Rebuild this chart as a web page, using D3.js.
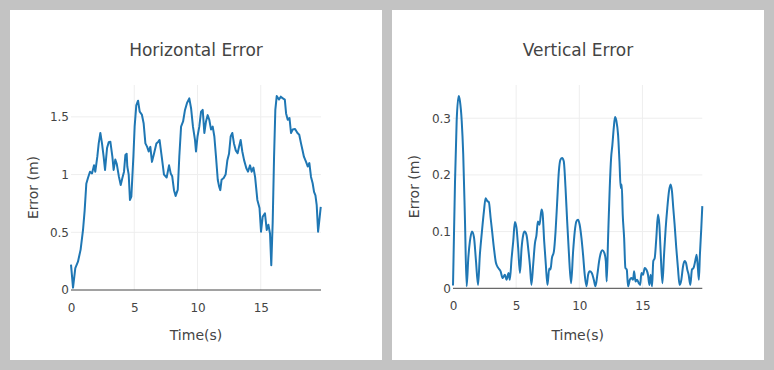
<!DOCTYPE html>
<html>
<head>
<meta charset="utf-8">
<script src="https://cdn.jsdelivr.net/npm/d3@7"></script>
<style>
  body { margin: 0; background: #c3c3c3; }
  svg { display: block; }
  text { font-family: "DejaVu Sans", verdana, sans-serif; fill: #444; }
</style>
</head>
<body>
<svg id="chart" width="774" height="370"></svg>
<script>
'use strict';

// ----- data -----
var hTime = [0, 0.16, 0.34, 0.55, 0.76, 0.95, 1.08, 1.21, 1.34, 1.50, 1.66, 1.82, 1.92, 2.08, 2.19, 2.32, 2.45, 2.58, 2.69, 2.85,
  2.98, 3.11, 3.27, 3.37, 3.50, 3.62, 3.79, 3.93, 4.06, 4.19, 4.30, 4.40, 4.45, 4.56, 4.66, 4.77, 4.93, 5.03, 5.16, 5.30,
  5.43, 5.60, 5.74, 5.88, 6.02, 6.14, 6.27, 6.40, 6.56, 6.75, 6.90, 7.00, 7.17, 7.35, 7.56, 7.75, 7.88, 8.00, 8.14, 8.27,
  8.44, 8.56, 8.70, 8.86, 9.01, 9.17, 9.35, 9.49, 9.64, 9.80, 9.88, 10.0, 10.14, 10.28, 10.41, 10.54, 10.67, 10.80, 10.93, 11.07,
  11.20, 11.33, 11.46, 11.60, 11.70, 11.80, 11.90, 12.07, 12.22, 12.36, 12.49, 12.62, 12.75, 12.88, 13.02, 13.17, 13.28, 13.41, 13.54, 13.68,
  13.86, 13.99, 14.15, 14.28, 14.42, 14.55, 14.73, 14.90, 15.02, 15.15, 15.33, 15.47, 15.60, 15.73, 15.83, 15.94, 16.05, 16.15, 16.26, 16.44,
  16.58, 16.75, 16.90, 17.00, 17.13, 17.27, 17.39, 17.52, 17.71, 17.90, 18.04, 18.18, 18.30, 18.41, 18.58, 18.71, 18.84, 18.97, 19.10, 19.21,
  19.32, 19.42, 19.53, 19.63, 19.74];
var hError = [0.22, 0.02, 0.19, 0.245, 0.35, 0.52, 0.69, 0.92, 0.97, 1.025, 1.01, 1.08, 1.025, 1.155, 1.27, 1.36, 1.27, 1.155, 1.04, 1.23,
  1.28, 1.285, 1.155, 1.04, 1.13, 1.09, 0.98, 0.91, 0.97, 1.025, 1.17, 1.18, 1.07, 1.0, 0.78, 0.81, 1.155, 1.415, 1.60, 1.64,
  1.545, 1.52, 1.445, 1.27, 1.24, 1.20, 1.24, 1.11, 1.18, 1.27, 1.285, 1.30, 1.155, 1.0, 0.975, 1.08, 1.01, 0.985, 0.865, 0.815,
  0.87, 1.155, 1.415, 1.46, 1.56, 1.62, 1.66, 1.575, 1.415, 1.30, 1.2, 1.33, 1.415, 1.545, 1.56, 1.36, 1.46, 1.515, 1.475, 1.39,
  1.415, 1.33, 1.155, 0.955, 0.90, 0.865, 0.955, 0.97, 1.0, 1.125, 1.18, 1.33, 1.36, 1.27, 1.21, 1.185, 1.24, 1.30, 1.2, 1.125,
  1.055, 1.025, 1.08, 1.025, 1.06, 0.98, 0.78, 0.71, 0.505, 0.635, 0.665, 0.52, 0.565, 0.49, 0.215, 0.58, 1.155, 1.56, 1.68, 1.65,
  1.675, 1.66, 1.65, 1.53, 1.475, 1.49, 1.36, 1.39, 1.395, 1.36, 1.345, 1.27, 1.21, 1.155, 1.11, 1.07, 1.1, 0.98, 0.925, 0.85,
  0.82, 0.735, 0.505, 0.605, 0.72];

var vTime = [0, 0.16, 0.29, 0.45, 0.55, 0.69, 0.81, 0.95, 1.08, 1.21, 1.34, 1.50, 1.66, 1.82, 1.98, 2.13, 2.29, 2.45, 2.58, 2.71,
  2.84, 2.98, 3.10, 3.24, 3.40, 3.58, 3.77, 3.93, 4.11, 4.24, 4.40, 4.50, 4.64, 4.77, 4.90, 5.03, 5.16, 5.30, 5.43, 5.56,
  5.67, 5.82, 5.98, 6.09, 6.21, 6.35, 6.48, 6.61, 6.72, 6.85, 7.01, 7.09, 7.22, 7.35, 7.48, 7.62, 7.72, 7.83, 7.99, 8.12,
  8.25, 8.38, 8.51, 8.64, 8.77, 8.91, 9.04, 9.17, 9.35, 9.51, 9.64, 9.77, 9.90, 10.03, 10.17, 10.30, 10.43, 10.57, 10.70, 10.83,
  10.99, 11.15, 11.28, 11.43, 11.57, 11.70, 11.83, 11.99, 12.10, 12.17, 12.28, 12.41, 12.52, 12.62, 12.73, 12.83, 12.94, 13.07, 13.18, 13.28,
  13.36, 13.44, 13.55, 13.65, 13.76, 13.86, 14.00, 14.13, 14.26, 14.34, 14.45, 14.58, 14.71, 14.82, 14.92, 15.05, 15.18, 15.31, 15.44, 15.55,
  15.65, 15.76, 15.86, 15.97, 16.10, 16.23, 16.34, 16.44, 16.58, 16.71, 16.84, 16.97, 17.10, 17.23, 17.34, 17.44, 17.55, 17.68, 17.81, 17.94,
  18.08, 18.21, 18.34, 18.45, 18.55, 18.66, 18.79, 18.92, 19.05, 19.18, 19.29, 19.39, 19.47, 19.55, 19.66, 19.74];
var vError = [0.005, 0.189, 0.295, 0.339, 0.33, 0.295, 0.236, 0.118, 0.0035, 0.053, 0.083, 0.1, 0.09, 0.048, 0.006, 0.06, 0.1, 0.136, 0.159, 0.154,
  0.152, 0.124, 0.1, 0.071, 0.045, 0.036, 0.03, 0.018, 0.024, 0.015, 0.027, 0.015, 0.053, 0.083, 0.117, 0.106, 0.071, 0.027, 0.071, 0.094,
  0.1, 0.094, 0.065, 0.041, 0.006, 0.042, 0.078, 0.094, 0.118, 0.112, 0.139, 0.133, 0.083, 0.042, 0.006, 0.035, 0.033, 0.053, 0.065, 0.1,
  0.153, 0.206, 0.227, 0.23, 0.224, 0.177, 0.118, 0.065, 0.009, 0.065, 0.1, 0.118, 0.121, 0.112, 0.089, 0.059, 0.024, 0.0035, 0.024, 0.03,
  0.027, 0.015, 0.0035, 0.024, 0.048, 0.062, 0.067, 0.062, 0.048, 0.012, 0.089, 0.177, 0.23, 0.253, 0.283, 0.302, 0.295, 0.271, 0.224, 0.177,
  0.183, 0.13, 0.089, 0.036, 0.033, 0.0035, 0.015, 0.018, 0.015, 0.03, 0.012, 0.015, 0.009, 0.006, 0.027, 0.024, 0.036, 0.033, 0.024, 0.006,
  0.024, 0.0035, 0.048, 0.053, 0.089, 0.13, 0.112, 0.065, 0.009, 0.059, 0.106, 0.142, 0.171, 0.183, 0.171, 0.142, 0.112, 0.071, 0.036, 0.006,
  0.015, 0.038, 0.048, 0.045, 0.033, 0.024, 0.006, 0.033, 0.036, 0.048, 0.059, 0.036, 0.015, 0.059, 0.106, 0.145];

var xTicks = [0, 5, 10, 15];
var hTicks = [0, 0.5, 1, 1.5];
var vTicks = [0, 0.1, 0.2, 0.3];

var svg = d3.select("#chart");
var fontFamily = "\"DejaVu Sans\", verdana, sans-serif";

function drawPanel(opt) {
  var panel = svg.append("g")
    .attr("transform", "translate(" + opt.left + "," + opt.top + ")");

  panel.append("rect")
    .attr("width", 372)
    .attr("height", 350)
    .attr("fill", "#fff");

  var margin = opt.margin,
      width = opt.width,
      height = opt.height;

  var g = panel.append("g")
    .attr("transform", "translate(" + margin.left + "," + margin.top + ")");

  var x = d3.scaleLinear().domain([0, opt.xMax]).range([0, width]),
      y = d3.scaleLinear().domain([0, opt.yMax]).range([height, 0]);

  // grid
  g.selectAll(".vgrid")
    .data(xTicks.filter(function(d) { return d > 0; }))
    .enter().append("line")
    .attr("x1", function(d) { return x(d); })
    .attr("x2", function(d) { return x(d); })
    .attr("y1", 0)
    .attr("y2", height)
    .attr("stroke", "#eee")
    .attr("stroke-width", 1);

  g.selectAll(".hgrid")
    .data(opt.yTicks.filter(function(d) { return d > 0; }))
    .enter().append("line")
    .attr("x1", 0)
    .attr("x2", width)
    .attr("y1", function(d) { return y(d); })
    .attr("y2", function(d) { return y(d); })
    .attr("stroke", "#eee")
    .attr("stroke-width", 1);

  // axes (labels only)
  var xAxis = g.append("g")
    .attr("transform", "translate(0," + height + ")")
    .call(d3.axisBottom(x).tickValues(xTicks).tickSize(0).tickPadding(13.5).tickFormat(String));
  var yAxis = g.append("g")
    .call(d3.axisLeft(y).tickValues(opt.yTicks).tickSize(0).tickPadding(2).tickFormat(String));
  [xAxis, yAxis].forEach(function(a) {
    a.select(".domain").remove();
    a.selectAll("text")
      .attr("fill", "#444")
      .style("font-size", "12px")
      .style("font-family", fontFamily);
  });

  // zero line
  g.append("line")
    .attr("x1", 0)
    .attr("x2", width)
    .attr("y1", y(0))
    .attr("y2", y(0))
    .attr("stroke", "#444")
    .attr("stroke-width", 1);

  var pts = opt.time.map(function(t, i) { return [t, opt.values[i]]; });

  var line = d3.line()
    .x(function(d) { return x(d[0]); })
    .y(function(d) { return y(d[1]); })
    .curve(opt.curve);

  g.append("path")
    .datum(pts)
    .attr("fill", "none")
    .attr("stroke", "#1f77b4")
    .attr("stroke-width", 2)
    .attr("stroke-linejoin", "round")
    .attr("d", line);

  // titles
  panel.append("text")
    .attr("x", 186)
    .attr("y", 46)
    .attr("text-anchor", "middle")
    .style("font-size", "17px")
    .text(opt.title);

  panel.append("text")
    .attr("x", margin.left + width / 2)
    .attr("y", 330)
    .attr("text-anchor", "middle")
    .style("font-size", "14px")
    .text("Time(s)");

  panel.append("text")
    .attr("transform", "rotate(-90)")
    .attr("x", -(margin.top + height / 2))
    .attr("y", opt.yTitleX)
    .attr("text-anchor", "middle")
    .style("font-size", "14px")
    .text("Error (m)");
}

drawPanel({
  left: 10, top: 10,
  margin: {top: 75, left: 61},
  width: 250, height: 205,
  xMax: 19.76, yMax: 1.776,
  time: hTime, values: hError,
  yTicks: hTicks,
  curve: d3.curveLinear,
  title: "Horizontal Error",
  yTitleX: 27.5
});

drawPanel({
  left: 392, top: 10,
  margin: {top: 75, left: 61},
  width: 249.3, height: 203.3,
  xMax: 19.74, yMax: 0.3586,
  time: vTime, values: vError,
  yTicks: vTicks,
  curve: d3.curveMonotoneX,
  title: "Vertical Error",
  yTitleX: 26.5
});
</script>
</body>
</html>
